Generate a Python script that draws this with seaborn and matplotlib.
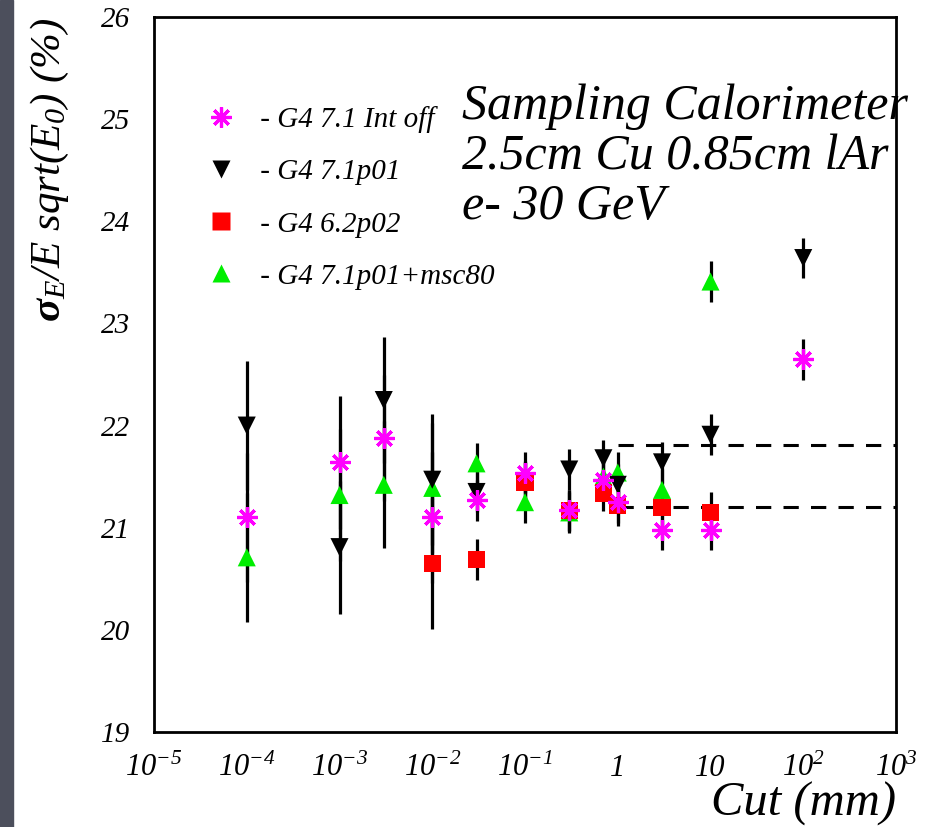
import matplotlib
matplotlib.use("Agg")
import matplotlib.pyplot as plt
from matplotlib.lines import Line2D
from matplotlib.patches import Rectangle
from matplotlib.ticker import FixedLocator, FixedFormatter, LogLocator, MultipleLocator, NullFormatter
import numpy as np
import pandas as pd
import seaborn as sns

# production cut (mm) and energy resolution (%)
cuts = [1e-4, 1e-3, 3e-3, 1e-2, 3e-2, 1e-1, 0.3, 0.7, 1, 3, 10, 100]
int_off = [21.10, 21.64, 21.88, 21.10, 21.27, 21.54, 21.17, 21.47, 21.25, 20.98, 20.98, 22.65]
g4_71p01 = [22.00, 20.81, 22.25, 21.47, 21.35, 21.45, 21.57, 21.68, 21.42, 21.64, 21.91, 23.64]
g4_62p02 = [np.nan, np.nan, np.nan, 20.65, 20.69, 21.44, 21.17, 21.34, 21.22, 21.20, 21.15, np.nan]
g4_msc80 = [20.71, 21.32, 21.42, 21.39, 21.63, 21.25, 21.15, 21.50, 21.54, 21.37, 23.41, np.nan]
errors = [0.63, 0.65, 0.62, 0.64, 0.2, 0.2, 0.2, 0.18, 0.2, 0.2, 0.2, 0.2]

dash_levels = [21.81, 21.20]
dash_from, dash_to = 1.0, 1e3

series = {
    " - G4 7.1p01+msc80": g4_msc80,
    " - G4 7.1p01": g4_71p01,
    " - G4 6.2p02": g4_62p02,
    " - G4 7.1 Int off": int_off,
}
styles = {
    " - G4 7.1 Int off": dict(marker=(8, 2, 0), color="#ff00ff", size=14.5),
    " - G4 7.1p01": dict(marker="v", color="black", size=13),
    " - G4 6.2p02": dict(marker="s", color="#ff0000", size=12.5),
    " - G4 7.1p01+msc80": dict(marker="^", color="#00ee00", size=13),
}
legend_order = [" - G4 7.1 Int off", " - G4 7.1p01", " - G4 6.2p02", " - G4 7.1p01+msc80"]

rows = []
for name, vals in series.items():
    for c, v, e in zip(cuts, vals, errors):
        if not np.isnan(v):
            rows.append({"cut": c, "res": v, "err": e, "series": name})
df = pd.DataFrame(rows)

sns.set_theme(style="white")
plt.rcParams["font.family"] = "serif"
plt.rcParams["font.serif"] = ["Liberation Serif", "Times New Roman", "DejaVu Serif"]
plt.rcParams["font.style"] = "italic"
plt.rcParams["mathtext.fontset"] = "custom"
plt.rcParams["mathtext.rm"] = "Liberation Serif:italic"
plt.rcParams["mathtext.it"] = "Liberation Serif:italic"
plt.rcParams["mathtext.bf"] = "Liberation Serif:bold"
for key in ["text.color", "axes.labelcolor", "xtick.color", "ytick.color"]:
    plt.rcParams[key] = "black"

fig = plt.figure(figsize=(9.41, 8.27), dpi=100)
ax = fig.add_axes([154 / 941, 1 - 732 / 827, 742 / 941, 715 / 827])

for name in series:
    sub = df[df["series"] == name]
    ax.errorbar(sub["cut"], sub["res"], yerr=sub["err"], fmt="none",
                ecolor="black", elinewidth=2.3, capsize=0, zorder=2)
for name in series:
    sub = df[df["series"] == name]
    st = styles[name]
    if st["marker"] != (8, 2, 0):
        sns.scatterplot(data=sub, x="cut", y="res", marker=st["marker"], color=st["color"],
                        s=st["size"] ** 2, edgecolor="none", linewidth=0, ax=ax, zorder=3)
    else:
        ax.plot(sub["cut"], sub["res"], ls="none", marker=st["marker"], color=st["color"],
                markersize=st["size"], markeredgewidth=2.3, zorder=3)

for lvl in dash_levels:
    ax.hlines(lvl, dash_from, dash_to, colors="black", linestyles=(0, (5, 4)), linewidth=2.2, zorder=1)

ax.set_xscale("log")
ax.set_xlim(1e-5, 1e3)
ax.set_ylim(19, 26)

decades = [1e-5, 1e-4, 1e-3, 1e-2, 1e-1, 1, 10, 100, 1000]
decade_labels = [r"$10^{-5}$", r"$10^{-4}$", r"$10^{-3}$", r"$10^{-2}$", r"$10^{-1}$",
                 "1", "10", r"$10^{2}$", r"$10^{3}$"]
ax.xaxis.set_major_locator(FixedLocator(decades))
ax.xaxis.set_major_formatter(FixedFormatter(decade_labels))
ax.xaxis.set_minor_locator(LogLocator(base=10, subs=np.arange(2, 10), numticks=100))
ax.xaxis.set_minor_formatter(NullFormatter())
ax.yaxis.set_major_locator(MultipleLocator(1))
ax.yaxis.set_minor_locator(MultipleLocator(0.2))

ax.tick_params(axis="both", which="both", direction="in", top=False, right=False, color="black")
ax.tick_params(axis="both", which="major", length=19.5, width=1.6)
ax.tick_params(axis="both", which="minor", length=9.5, width=1.4)
ax.tick_params(axis="y", which="major", labelsize=21, pad=17)
ax.tick_params(axis="x", which="major", labelsize=22, pad=16)
for s in ax.spines.values():
    s.set_color("black")
    s.set_linewidth(2.0)

ax.set_ylabel(r"$\mathbf{\sigma}_{E}/E\ sqrt(E_{0})\ (\%)$", fontsize=31, loc="top")
ax.yaxis.set_label_coords(-0.112, 1.0)
ax.set_xlabel("Cut (mm)", fontsize=35, loc="right")
ax.xaxis.set_label_coords(1.0, -0.07)

ax.text(0.415, 0.907, "Sampling Calorimeter\n2.5cm Cu 0.85cm lAr\ne- 30 GeV",
        transform=ax.transAxes, fontsize=36, va="top", ha="left", linespacing=1.1)

handles = []
for name in legend_order:
    st = styles[name]
    if st["marker"] == (8, 2, 0):
        h = Line2D([], [], ls="none", marker=st["marker"], color=st["color"],
                   markersize=st["size"], markeredgewidth=2.3)
    else:
        h = Line2D([], [], ls="none", marker=st["marker"], color=st["color"],
                   markeredgecolor="none", markersize=st["size"])
    handles.append(h)
ax.legend(handles, legend_order, loc="upper left", bbox_to_anchor=(0.071, 0.875),
          frameon=False, fontsize=21, handlelength=1.0, handletextpad=0.6,
          labelspacing=0.88, borderpad=0, borderaxespad=0)

fig.patches.append(Rectangle((0, 0), 13 / 941, 1, transform=fig.transFigure,
                             color="#4c4f5c", zorder=0))

fig.savefig("out.png", dpi=100)
